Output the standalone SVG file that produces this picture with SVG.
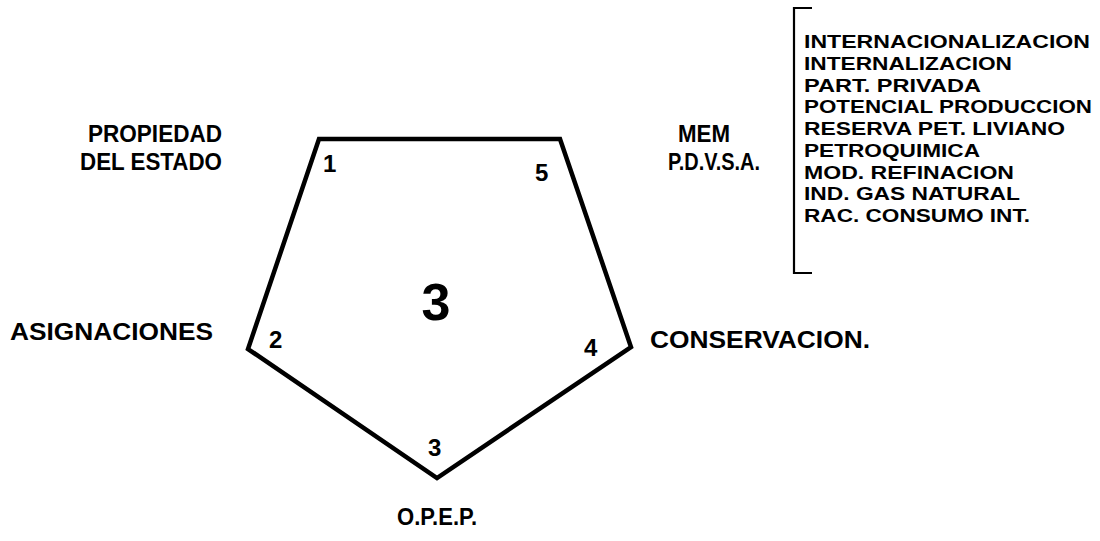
<svg xmlns="http://www.w3.org/2000/svg" width="1100" height="541" viewBox="0 0 1100 541">
<style>
text{font-family:"Liberation Sans",Arial,sans-serif;font-weight:bold;fill:#000}
.lab{font-size:23px}
.num{font-size:24px}
.big{font-size:52px}
.lst{font-size:18.5px}
</style>
<rect width="1100" height="541" fill="#fff"/>
<g id="connectors">
<polygon id="pentagon" points="319,139 560,139 631,347 437,478 248,349" fill="none" stroke="#000" stroke-width="4.5" stroke-linejoin="miter"/>
<path id="bracket" d="M812,8 H794 V273 H812" fill="none" stroke="#000" stroke-width="2.2"/>
</g>
<g id="n1"><text class="lab" x="88" y="142" textLength="134" lengthAdjust="spacingAndGlyphs">PROPIEDAD</text><text class="lab" x="80" y="170" textLength="142" lengthAdjust="spacingAndGlyphs">DEL ESTADO</text><text class="num" x="323" y="172">1</text></g>
<g id="n2"><text class="lab" x="10" y="340" textLength="203" lengthAdjust="spacingAndGlyphs">ASIGNACIONES</text><text class="num" x="269" y="348">2</text></g>
<g id="n3"><text class="lab" x="397" y="525" textLength="80" lengthAdjust="spacingAndGlyphs">O.P.E.P.</text><text class="num" x="428" y="456">3</text></g>
<g id="n4"><text class="lab" x="650" y="348" textLength="220" lengthAdjust="spacingAndGlyphs">CONSERVACION.</text><text class="num" x="584" y="356">4</text></g>
<g id="n5"><text class="lab" x="678" y="142" textLength="52" lengthAdjust="spacingAndGlyphs">MEM</text><text class="lab" x="668" y="170" textLength="92" lengthAdjust="spacingAndGlyphs">P.D.V.S.A.</text><text class="num" x="535" y="181">5</text></g>
<g id="center"><text class="big" x="436" y="320" text-anchor="middle">3</text></g>
<g id="list">
<text class="lst" x="804" y="48" textLength="286" lengthAdjust="spacingAndGlyphs">INTERNACIONALIZACION</text>
<text class="lst" x="804" y="70" textLength="208" lengthAdjust="spacingAndGlyphs">INTERNALIZACION</text>
<text class="lst" x="804" y="92" textLength="177" lengthAdjust="spacingAndGlyphs">PART. PRIVADA</text>
<text class="lst" x="804" y="113" textLength="288" lengthAdjust="spacingAndGlyphs">POTENCIAL PRODUCCION</text>
<text class="lst" x="804" y="135" textLength="261" lengthAdjust="spacingAndGlyphs">RESERVA PET. LIVIANO</text>
<text class="lst" x="804" y="157" textLength="176" lengthAdjust="spacingAndGlyphs">PETROQUIMICA</text>
<text class="lst" x="804" y="179" textLength="210" lengthAdjust="spacingAndGlyphs">MOD. REFINACION</text>
<text class="lst" x="804" y="200" textLength="216" lengthAdjust="spacingAndGlyphs">IND. GAS NATURAL</text>
<text class="lst" x="804" y="222" textLength="226" lengthAdjust="spacingAndGlyphs">RAC. CONSUMO INT.</text>
</g>
</svg>
